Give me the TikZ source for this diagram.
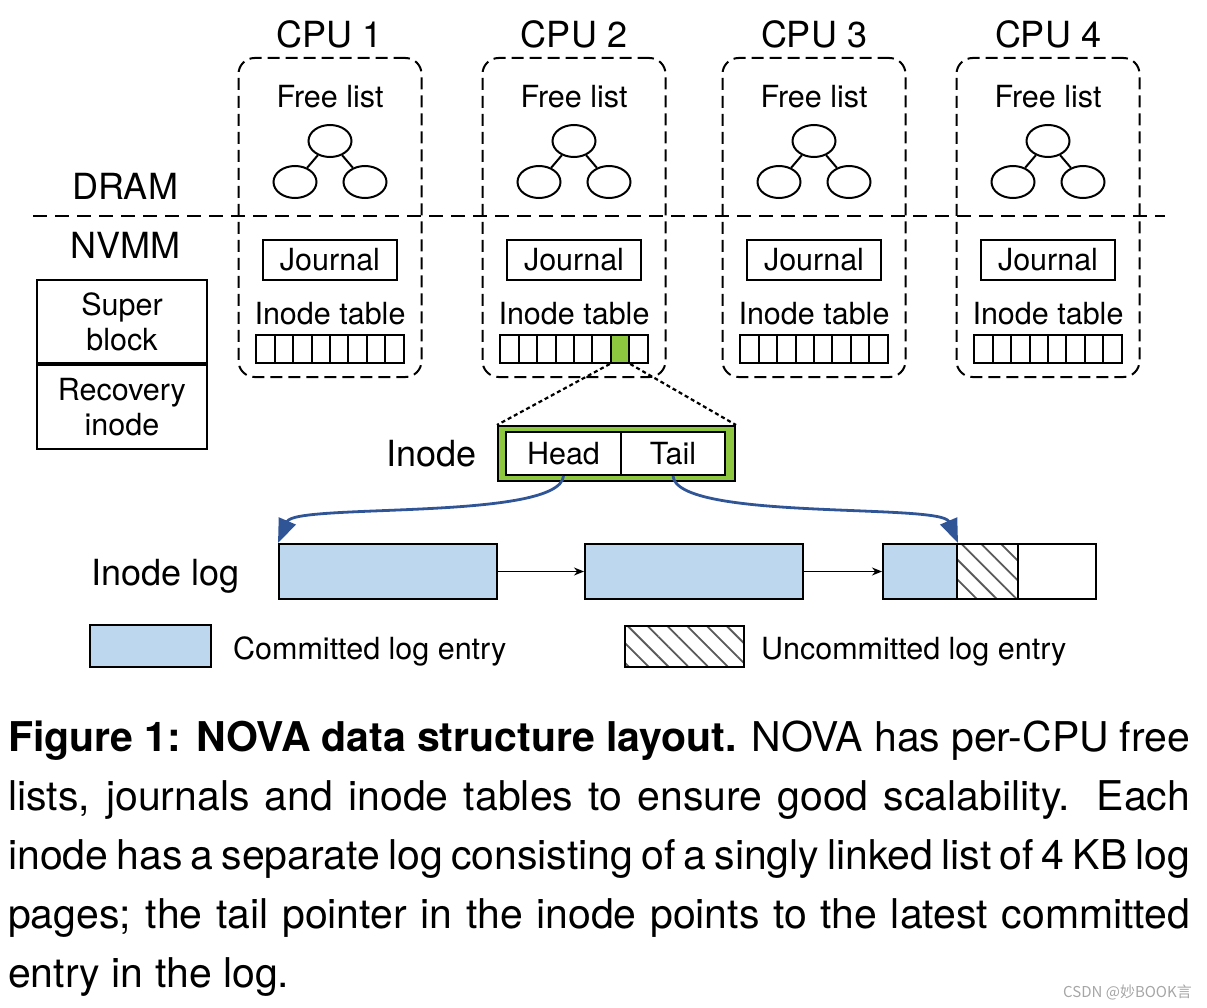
\documentclass[tikz,border=0pt]{standalone}
\usepackage{fontspec}
\setmainfont{TeX Gyre Heros}
\newfontfamily\cjkfont{Noto Sans CJK SC}
\usetikzlibrary{shapes.geometric,calc,positioning,arrows.meta,patterns.meta}

\definecolor{logblue}{RGB}{189,215,238}
\definecolor{ptrblue}{RGB}{47,85,151}
\definecolor{inodegreen}{RGB}{141,198,63}

\begin{document}
\begin{tikzpicture}[x=1pt,y=-1pt,
  every node/.style={inner sep=0pt,font=\fontsize{30.5}{35}\selectfont},
  bigtext/.style={font=\fontsize{36}{40}\selectfont},
  cpubox/.style={draw,dash pattern=on 12pt off 6pt,line width=2pt,rounded corners=16pt,minimum width=183pt,minimum height=319pt},
  sepline/.style={dash pattern=on 14pt off 8pt,line width=2pt},
  treenode/.style={draw,ellipse,line width=2pt,minimum width=43pt,minimum height=32pt},
  boxed/.style={draw,line width=2pt},
  cell/.style={boxed,minimum width=18.4pt,minimum height=28pt},
  logentry/.style={boxed,fill=logblue,minimum height=55pt},
  hatched/.style={boxed,pattern={Lines[angle=-45,distance=14pt,line width=1.8pt]},pattern color=black!65},
  ptr/.style={ptrblue,line width=2.8pt,-{Triangle[length=24pt,width=18pt]}},
  next/.style={line width=1.5pt,-{Stealth[length=10pt,width=8pt]}},
  zoomline/.style={dash pattern=on 4pt off 3pt,line width=2.2pt}
]
\useasboundingbox (0,0) rectangle (1207,1008);

% per-CPU structures
\foreach \i/\cx in {1/330,2/574,3/814,4/1048}{
  \node[cpubox] (cpu\i) at (\cx,217.5) {};
  \node[bigtext,anchor=base] (cpu\i-name) at (\cx,47.5) {CPU \i};
  \node[anchor=base] (free\i) at (\cx,108) {Free list};
  \node[treenode] (fl\i-top) at (\cx,141) {};
  \node[treenode] (fl\i-left) at ($(fl\i-top)+(-35,41)$) {};
  \node[treenode] (fl\i-right) at ($(fl\i-top)+(35,41)$) {};
  \draw[line width=2pt] (fl\i-top) -- (fl\i-left);
  \draw[line width=2pt] (fl\i-top) -- (fl\i-right);
  \node[boxed,minimum width=134pt,minimum height=40pt] (journal\i) at (\cx,260) {Journal};
  \node[anchor=base] (itab\i) at (\cx,324) {Inode table};
  \foreach \j in {0,...,7}
    \node[cell] (tab\i-\j) at ({\cx-64.4+18.4*\j},349) {};
}
\node[cell,fill=inodegreen] at (tab2-6) {};

% DRAM / NVMM border
\coordinate (sepL) at (33,216);
\coordinate (sepR) at (1165,216);
\draw[sepline] (sepL) -- (sepR);
\node[bigtext,anchor=base] (dram) at (125,200) {DRAM};
\node[bigtext,anchor=base] (nvmm) at (125,259) {NVMM};

\node[boxed,minimum width=170pt,minimum height=83pt,align=center] (super) at (122,321.5) {Super\\block};
\node[boxed,minimum width=170pt,minimum height=84pt,align=center,anchor=north] (recovery) at (super.south) {Recovery\\inode};

% inode
\node[boxed,fill=inodegreen,minimum width=237pt,minimum height=55pt] (inode) at (616.5,453.5) {};
\node[boxed,fill=white,minimum width=115pt,minimum height=43pt] (head) at (563.5,453.5) {Head};
\node[boxed,fill=white,minimum width=104pt,minimum height=43pt] (tail) at (673,453.5) {Tail};
\node[bigtext,left=20pt of inode] (inodelabel) {Inode};
\draw[zoomline] (tab2-6.south west) -- (inode.north west);
\draw[zoomline] (tab2-6.south east) -- (inode.north east);

% inode log
\node[bigtext,anchor=base west] (loglabel) at (91,585) {Inode log};
\node[logentry,minimum width=218pt] (log1) at (388,571.5) {};
\node[logentry,minimum width=218pt] (log2) at (694,571.5) {};
\node[logentry,minimum width=74pt] (log3a) at (920,571.5) {};
\node[hatched,minimum width=61pt,minimum height=55pt] (log3b) at (987.5,571.5) {};
\node[boxed,minimum width=78pt,minimum height=55pt] (log3c) at (1057,571.5) {};
\draw[next] (log1) -- (log2);
\draw[next] (log2) -- (log3a);
\draw[ptr] (head.south) .. controls +(-4,45) and +(17,-40) .. (log1.north west);
\draw[ptr] (tail.south) .. controls +(4,45) and +(-17,-40) .. (log3a.north east);

% legend
\node[boxed,fill=logblue,minimum width=121pt,minimum height=42pt] (legC) at (150.5,646) {};
\node[anchor=base west] (legCtext) at ($(legC.east)+(21,13)$) {Committed log entry};
\node[hatched,minimum width=119pt,minimum height=41pt] (legU) at (684.5,646.5) {};
\node[anchor=base west] (legUtext) at ($(legU.east)+(16,12.5)$) {Uncommitted log entry};

% caption
\node[anchor=base west,text width=1182pt,align=justify,font=\fontsize{41}{59}\selectfont] (caption) at (8,751)
  {\textbf{Figure 1: NOVA data structure layout.} NOVA has per-CPU free\linebreak
   lists, journals and inode tables to ensure good scalability.  Each\linebreak
   inode has a separate log consisting of a singly linked list of 4 KB log\linebreak
   pages; the tail pointer in the inode points to the latest committed\linebreak
   entry in the log.};
\node[anchor=base east,font=\cjkfont\fontsize{15}{18}\selectfont,text=gray!70] (mark) at (1192,997) {CSDN @妙BOOK言};
\end{tikzpicture}
\end{document}
